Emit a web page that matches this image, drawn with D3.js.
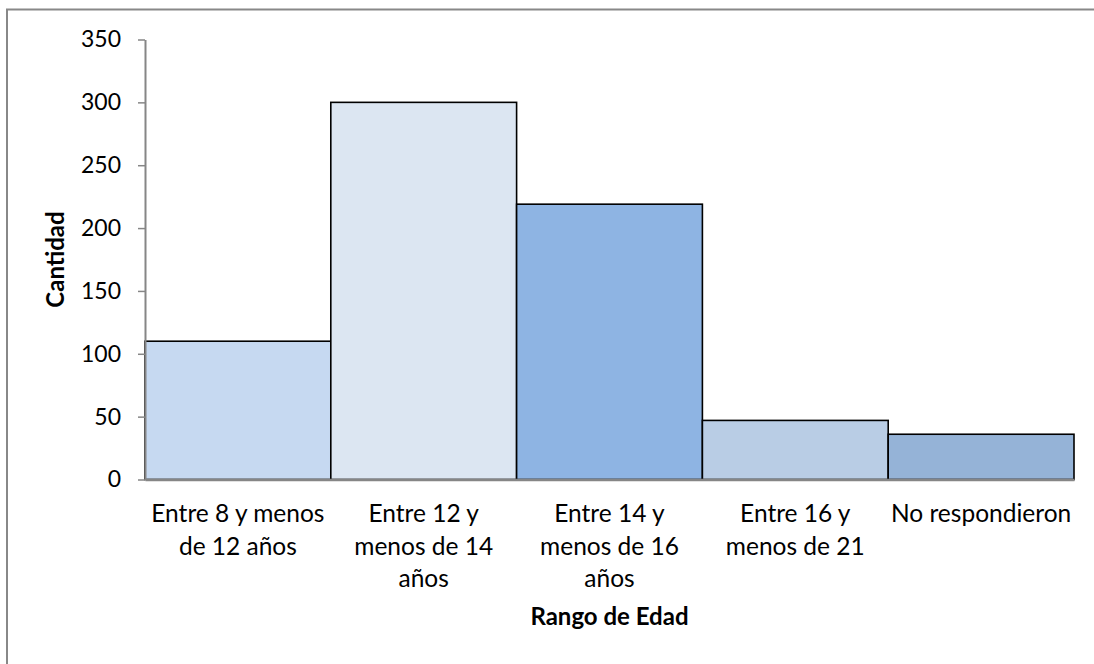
<!DOCTYPE html>
<html>
<head>
<meta charset="utf-8">
<script src="https://cdn.jsdelivr.net/npm/d3@7/dist/d3.min.js"></script>
<style>
  html, body { margin: 0; padding: 0; background: #fff; overflow: hidden; }
  svg { display: block; }
  text { font-family: Lato, "Open Sans", sans-serif; fill: #000; }
</style>
</head>
<body>
<svg id="chart" width="1094" height="664"></svg>
<script>
// Age ranges and number of respondents in each
const categories = [
  "Entre 8 y menos de 12 años",
  "Entre 12 y menos de 14 años",
  "Entre 14 y menos de 16 años",
  "Entre 16 y menos de 21",
  "No respondieron"
];
const counts = [110, 300, 219, 47, 36];
const barColors = ["#C6D9F1", "#DCE6F2", "#8EB4E3", "#B9CDE5", "#95B3D7"];
const categoryLabelLines = [
  ["Entre 8 y menos", "de 12 años"],
  ["Entre 12 y", "menos de 14", "años"],
  ["Entre 14 y", "menos de 16", "años"],
  ["Entre 16 y", "menos de 21"],
  ["No respondieron"]
];
const yTicks = [0, 50, 100, 150, 200, 250, 300, 350];
const yTitle = "Cantidad";
const xTitle = "Rango de Edad";

const svg = d3.select("#chart");
const margin = { left: 145, right: 1074, top: 39.5, bottom: 479.5 };

// Chart area frame (extends past the right and bottom edges)
svg.append("path")
  .attr("d", "M7,664 L7,9.5 L1094,9.5")
  .attr("fill", "none")
  .attr("stroke", "#888888")
  .attr("stroke-width", 2);

const x = d3.scaleBand()
  .domain(categories)
  .range([margin.left, margin.right])
  .padding(0);

const y = d3.scaleLinear()
  .domain([0, 350])
  .range([margin.bottom, margin.top]);

// Bars
svg.append("g")
  .selectAll("rect")
  .data(categories)
  .join("rect")
  .attr("x", d => x(d))
  .attr("y", (d, i) => y(counts[i]))
  .attr("width", x.bandwidth())
  .attr("height", (d, i) => y(0) - y(counts[i]))
  .attr("fill", (d, i) => barColors[i])
  .attr("stroke", "#000")
  .attr("stroke-width", 1.6);

// Y axis
const yAxis = svg.append("g")
  .attr("transform", `translate(${margin.left},0)`)
  .call(d3.axisLeft(y).tickValues(yTicks).tickSize(7).tickPadding(17).tickSizeOuter(0));
yAxis.select(".domain").attr("stroke", "#868686").attr("stroke-width", 2);
yAxis.selectAll(".tick line").attr("stroke", "#868686").attr("stroke-width", 1.5);
yAxis.selectAll(".tick text")
  .attr("font-family", "Lato, sans-serif")
  .attr("font-size", 23)
  .attr("fill", "#000");

// X axis
const xAxis = svg.append("g")
  .attr("transform", `translate(0,${margin.bottom})`)
  .call(d3.axisBottom(x).tickSize(0).tickSizeOuter(0).tickFormat(""));
xAxis.select(".domain").attr("stroke", "#868686").attr("stroke-width", 2.5);

// Category labels, wrapped onto lines
const labels = svg.append("g");
categories.forEach((c, i) => {
  const t = labels.append("text")
    .attr("text-anchor", "middle")
    .attr("font-size", 24.5)
    .attr("x", x(c) + x.bandwidth() / 2)
    .attr("y", 522);
  categoryLabelLines[i].forEach((line, j) => {
    t.append("tspan")
      .attr("x", x(c) + x.bandwidth() / 2)
      .attr("dy", j === 0 ? 0 : 32.5)
      .text(line);
  });
});

// Axis titles
svg.append("text")
  .attr("x", (margin.left + margin.right) / 2)
  .attr("y", 625)
  .attr("text-anchor", "middle")
  .attr("font-size", 24)
  .attr("font-weight", "bold")
  .text(xTitle);

svg.append("text")
  .attr("transform", `translate(64,${(margin.top + margin.bottom) / 2}) rotate(-90)`)
  .attr("text-anchor", "middle")
  .attr("font-size", 24)
  .attr("font-weight", "bold")
  .text(yTitle);
</script>
</body>
</html>
